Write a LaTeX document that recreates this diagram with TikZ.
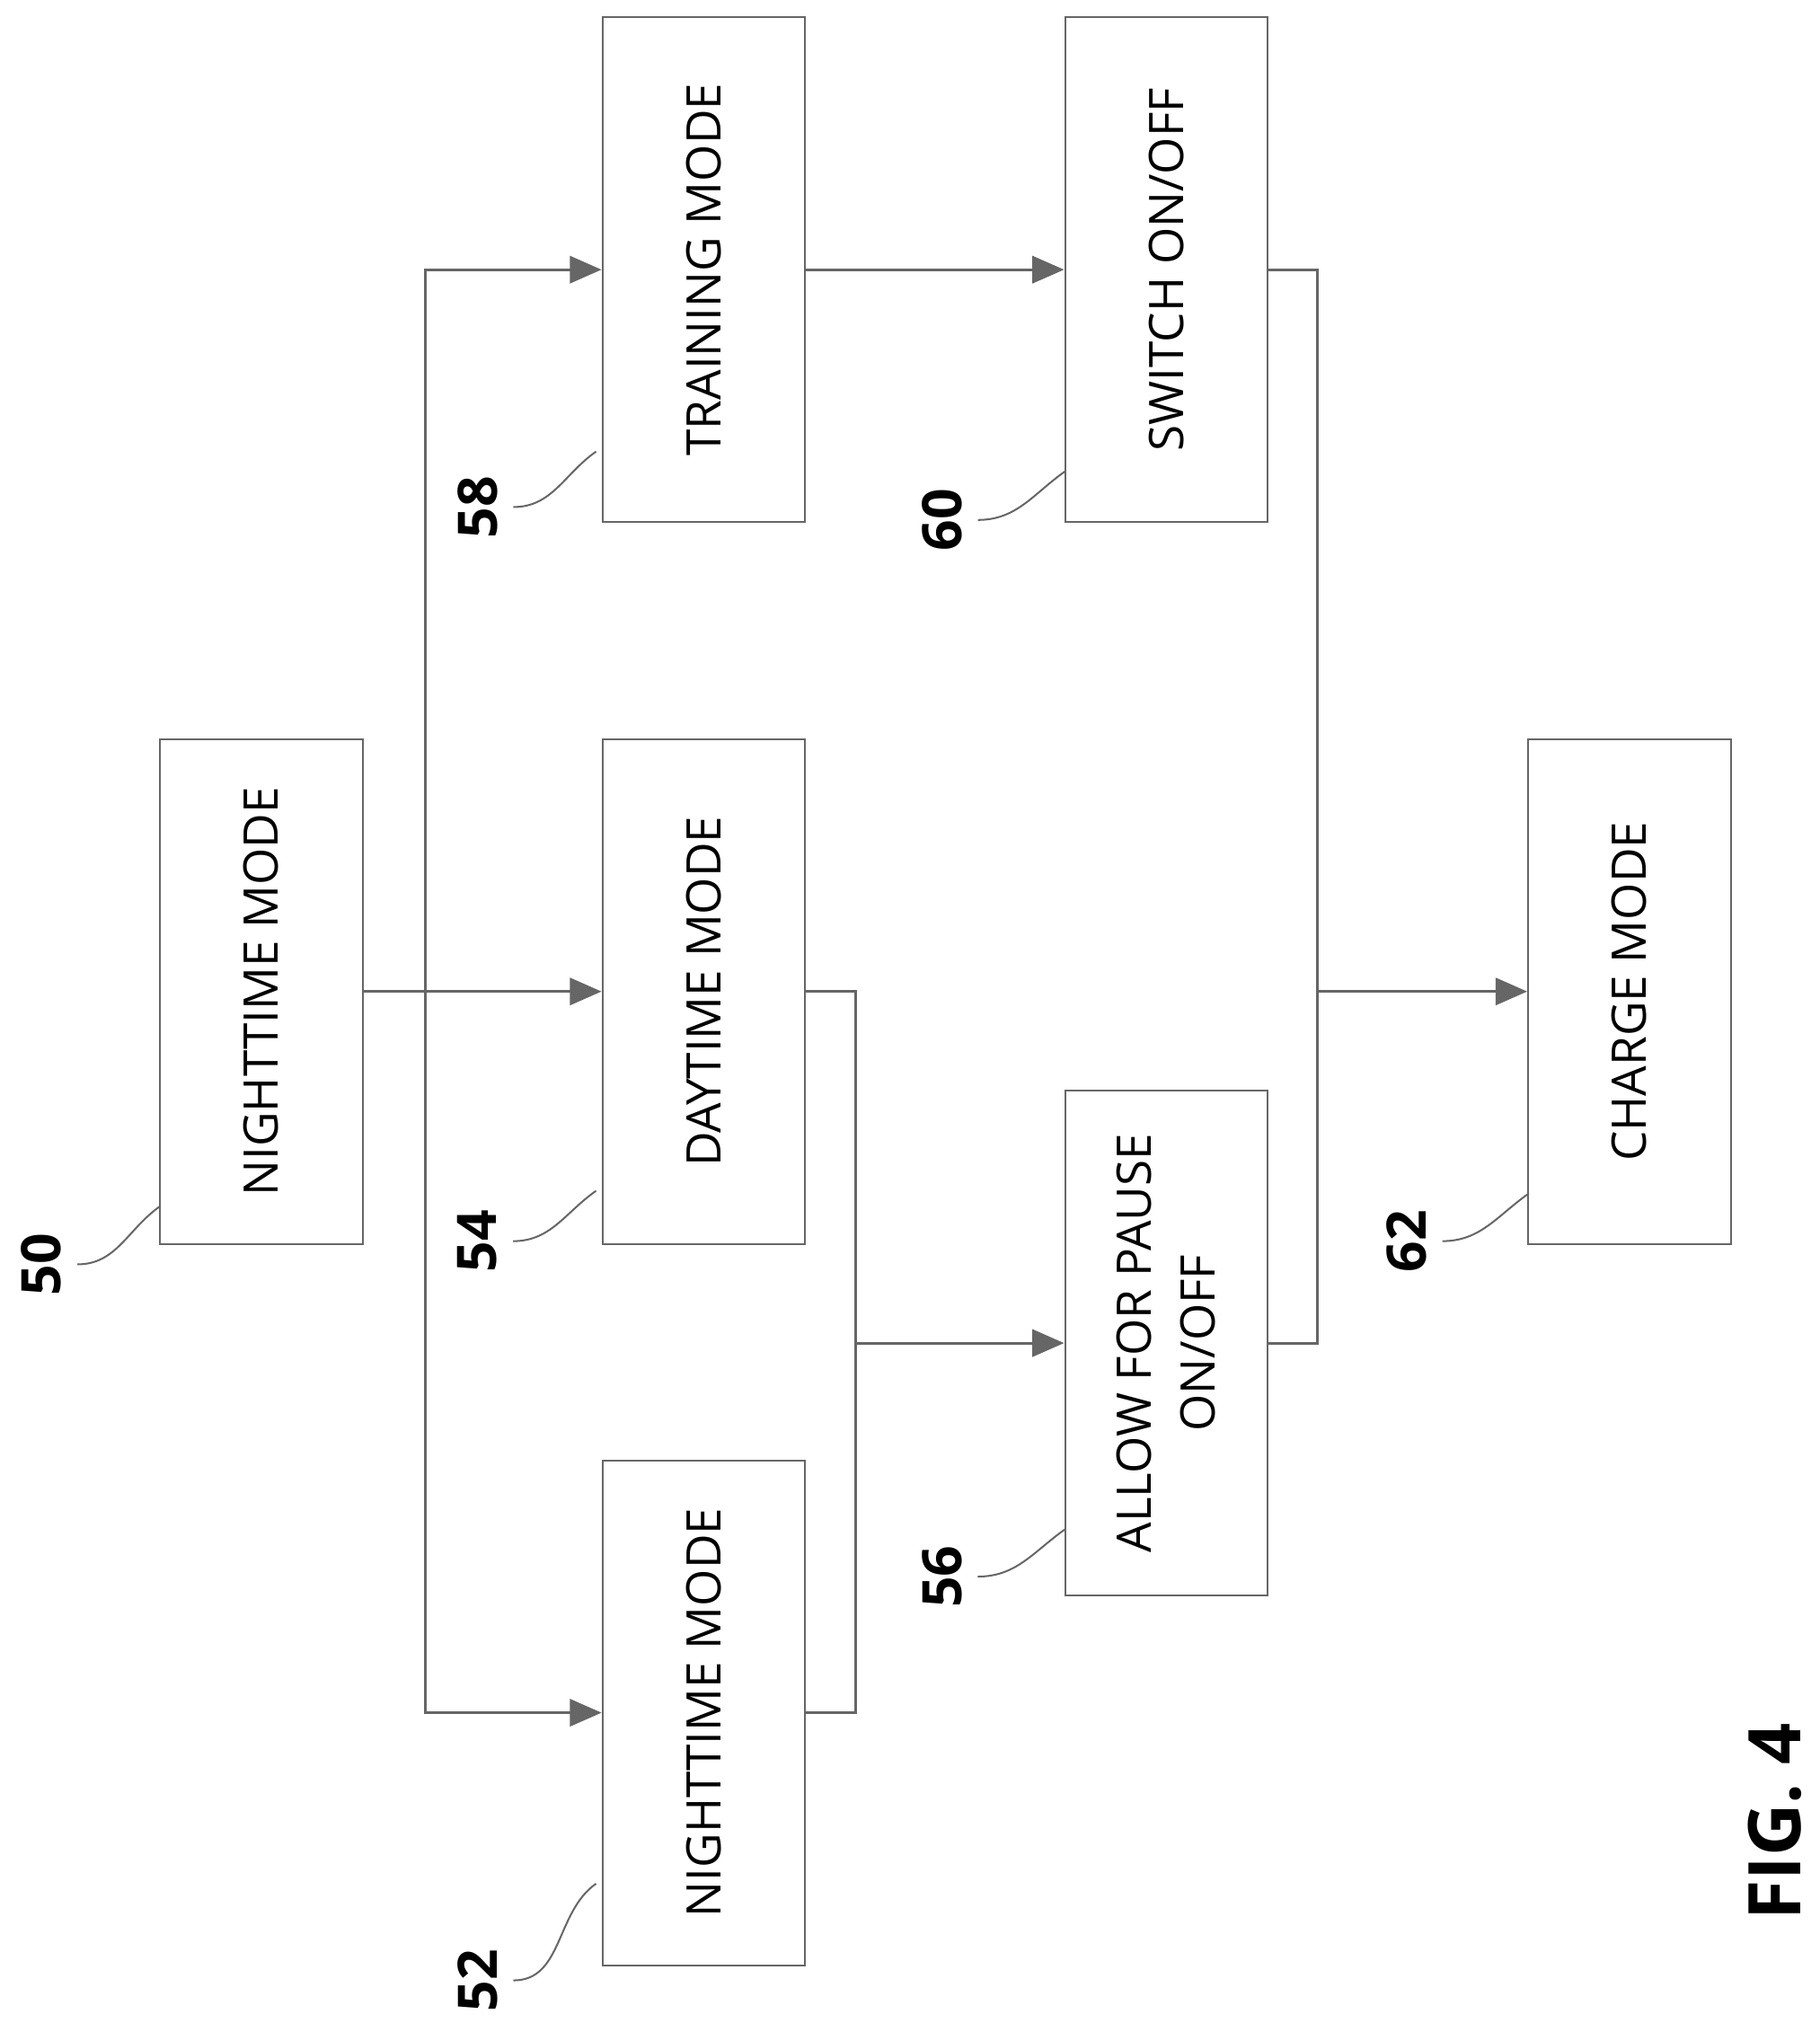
\documentclass[tikz,border=0pt]{standalone}
\usepackage{fontspec}
\setmainfont{Open Sans}
\usetikzlibrary{arrows.meta}
\tikzset{
  box/.style = {draw=black!60, thin, rotate=90, minimum width=3.91cm,
                minimum height=1.57cm, align=center, inner sep=2pt,
                font=\fontsize{10.5}{14}\selectfont},
  lbl/.style = {rotate=90, font=\fontsize{12}{14}\selectfont\bfseries},
  line/.style = {draw=black!60, semithick},
  flow/.style = {line, -{Triangle[length=7pt,width=6pt]}},
  leader/.style = {draw=black!60, thin}
}

\begin{document}
\begin{tikzpicture}[x=0.01cm, y=-0.01cm]
	\useasboundingbox (0,0) rectangle (1410,1575);

	% Boxes
	\node[box] (n50) at (202.5,768.5) {NIGHTTIME MODE};
	\node[box] (d54) at (545.5,768.5) {DAYTIME MODE};
	\node[box] (t58) at (545.5,209) {TRAINING MODE};
	\node[box] (n52) at (545.5,1327.5) {NIGHTTIME MODE};
	\node[box] (s60) at (904,209) {SWITCH ON/OFF};
	\node[box] (a56) at (904,1041) {ALLOW FOR PAUSE\\ON/OFF};
	\node[box] (c62) at (1263,768.5) {CHARGE MODE};

	% Junctions
	\coordinate (bus) at (330,768.5);
	\coordinate (j1) at (663,1041);
	\coordinate (j2) at (1021,768.5);

	% Connectors
	\draw[flow] (n50) -- (d54);
	\draw[flow] (bus) |- (t58);
	\draw[flow] (bus) |- (n52);
	\draw[line] (d54) -| (j1);
	\draw[line] (n52) -| (j1);
	\draw[flow] (j1) -- (a56);
	\draw[flow] (t58) -- (s60);
	\draw[line] (s60) -| (j2);
	\draw[line] (a56) -| (j2);
	\draw[flow] (j2) -- (c62);

	% Reference numerals
	\node[lbl] (l50) at (32,980) {50};
	\node[lbl] (l54) at (370,962) {54};
	\node[lbl] (l58) at (370,393) {58};
	\node[lbl] (l52) at (370,1535) {52};
	\node[lbl] (l60) at (730,403) {60};
	\node[lbl] (l56) at (730,1222) {56};
	\node[lbl] (l62) at (1090,962) {62};
	\draw[leader] (l50.south) to[out=0,in=215] (124,935);
	\draw[leader] (l54.south) to[out=0,in=215] (462,923);
	\draw[leader] (l58.south) to[out=0,in=215] (462,350);
	\draw[leader] (l52.south) to[out=0,in=215] (462,1460);
	\draw[leader] (l60.south) to[out=0,in=215] (826,365);
	\draw[leader] (l56.south) to[out=0,in=215] (826,1185);
	\draw[leader] (l62.south) to[out=0,in=215] (1185,925);

	\node[lbl, font=\fontsize{16}{20}\selectfont\bfseries] (fig) at (1376,1412) {FIG. 4};
\end{tikzpicture}
\end{document}
